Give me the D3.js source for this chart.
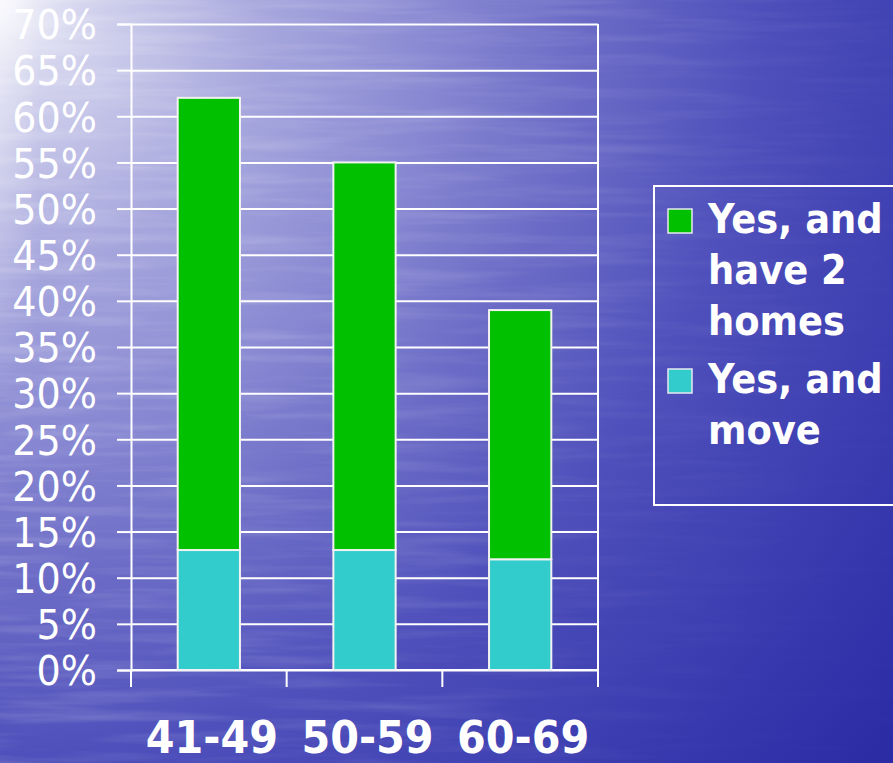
<!DOCTYPE html>
<html>
<head>
<meta charset="utf-8">
<script src="https://cdn.jsdelivr.net/npm/d3@7"></script>
<style>
  html, body { margin: 0; padding: 0; background: #3a3ab0; }
  svg { display: block; }
</style>
</head>
<body>
<svg id="chart" width="893" height="763"></svg>
<script>
// ---- data ----
const categories = ["41-49", "50-59", "60-69"];
const seriesNames = ["Yes, and have 2 homes", "Yes, and move"];
const moveValues = [0.13, 0.13, 0.12];        // bottom (cyan)
const twoHomesValues = [0.49, 0.42, 0.27];    // top (green) -> totals 62%, 55%, 39%
const yTicks = [0, 0.05, 0.10, 0.15, 0.20, 0.25, 0.30, 0.35, 0.40, 0.45, 0.50, 0.55, 0.60, 0.65, 0.70];
const legendLines = [["Yes, and", "have 2", "homes"], ["Yes, and", "move"]];
const colors = ["#00c000", "#33cccc"];

const W = 893, H = 763;
const svg = d3.select("#chart");
const defs = svg.append("defs");

// background gradient
const rg = defs.append("radialGradient").attr("id", "bg")
  .attr("gradientUnits", "userSpaceOnUse").attr("cx", 0).attr("cy", 0).attr("r", 1180);
[[0, "#f6f6fc"], [0.07, "#d4d4ee"], [0.22, "#a8a8de"], [0.35, "#8c8cd4"], [0.5, "#6a6ac6"],
 [0.64, "#4f50bb"], [0.78, "#3f40b2"], [1, "#2a2aa4"]]
  .forEach(([o, c]) => rg.append("stop").attr("offset", o).attr("stop-color", c));
svg.append("rect").attr("width", W).attr("height", H).attr("fill", "url(#bg)");

// left-edge glow
const lgl = defs.append("linearGradient").attr("id", "leftglow").attr("x1", 0).attr("y1", 0).attr("x2", 1).attr("y2", 0);
lgl.append("stop").attr("offset", 0).attr("stop-color", "#ffffff").attr("stop-opacity", 0.45);
lgl.append("stop").attr("offset", 1).attr("stop-color", "#ffffff").attr("stop-opacity", 0);
const lgv = defs.append("linearGradient").attr("id", "leftglowv").attr("x1", 0).attr("y1", 0).attr("x2", 0).attr("y2", 1);
lgv.append("stop").attr("offset", 0).attr("stop-color", "#fff").attr("stop-opacity", 1);
lgv.append("stop").attr("offset", 1).attr("stop-color", "#fff").attr("stop-opacity", 0);
const glowMask = defs.append("mask").attr("id", "glowmask");
glowMask.append("rect").attr("width", 40).attr("height", 420).attr("fill", "url(#leftglowv)");
svg.append("rect").attr("width", 40).attr("height", 420).attr("fill", "url(#leftglow)").attr("mask", "url(#glowmask)");

// water texture
const f = defs.append("filter").attr("id", "water").attr("x", 0).attr("y", 0).attr("width", 1).attr("height", 1);
f.append("feTurbulence").attr("type", "fractalNoise").attr("baseFrequency", "0.006 0.09")
  .attr("numOctaves", 3).attr("seed", 7).attr("result", "n");
f.append("feColorMatrix").attr("type", "matrix")
  .attr("values", "0 0 0 0 1  0 0 0 0 1  0 0 0 0 1  1.4 0 0 0 -0.6");
const tg = defs.append("linearGradient").attr("id", "texfade").attr("x1", 0).attr("y1", 0).attr("x2", 1).attr("y2", 0.3);
tg.append("stop").attr("offset", 0).attr("stop-color", "#fff").attr("stop-opacity", 1);
tg.append("stop").attr("offset", 0.7).attr("stop-color", "#fff").attr("stop-opacity", 0.4);
tg.append("stop").attr("offset", 1).attr("stop-color", "#fff").attr("stop-opacity", 0.05);
const m = defs.append("mask").attr("id", "texmask");
m.append("rect").attr("width", W).attr("height", H).attr("fill", "url(#texfade)");
svg.append("rect").attr("width", W).attr("height", H).attr("filter", "url(#water)")
  .attr("mask", "url(#texmask)").attr("opacity", 0.35);

// ---- scales ----
const plotL = 131, plotR = 598, plotT = 24, plotB = 670;
const y = d3.scaleLinear().domain([0, 0.7]).range([plotB, plotT]);
const x = d3.scaleBand().domain(categories).range([plotL, plotR]).paddingInner(0.6).paddingOuter(0.3);

// grid
const grid = svg.append("g").attr("transform", `translate(${plotL},0)`)
  .call(d3.axisLeft(y).tickValues(yTicks).tickSize(-(plotR - plotL)).tickFormat(""));
grid.select(".domain").remove();
grid.selectAll("line").attr("stroke", "#fff").attr("stroke-width", 2);

// right border
svg.append("line").attr("x1", plotR).attr("x2", plotR).attr("y1", plotT).attr("y2", plotB)
  .attr("stroke", "#fff").attr("stroke-width", 2);

// y axis
const sxY = 0.93;
const yAxis = svg.append("g").attr("transform", `translate(${plotL},0)`)
  .call(d3.axisLeft(y).tickValues(yTicks).tickSize(14).tickPadding(0).tickFormat(d3.format(".0%")));
yAxis.select(".domain").attr("stroke", "#fff").attr("stroke-width", 2);
yAxis.selectAll("line").attr("stroke", "#fff").attr("stroke-width", 2);
yAxis.selectAll("text")
  .attr("fill", "#fff").attr("font-family", "'DejaVu Sans', Verdana, sans-serif")
  .attr("font-size", 41).attr("x", -34 / sxY).attr("dy", "0.36em")
  .attr("transform", `scale(${sxY},1)`);

// x axis: baseline + ticks at category boundaries
const xAxisG = svg.append("g");
xAxisG.append("line").attr("x1", plotL).attr("x2", plotR).attr("y1", plotB).attr("y2", plotB)
  .attr("stroke", "#fff").attr("stroke-width", 2);
xAxisG.selectAll("line.tk").data(d3.range(categories.length + 1)).join("line").attr("class", "tk")
  .attr("x1", i => x.range()[0] + i * x.step()).attr("x2", i => x.range()[0] + i * x.step())
  .attr("y1", plotB).attr("y2", plotB + 17).attr("stroke", "#fff").attr("stroke-width", 2);

// stacked bars
const rows = categories.map((c, i) => ({ cat: c, move: moveValues[i], homes: twoHomesValues[i] }));
const stack = d3.stack().keys(["move", "homes"])(rows);
const stackColors = { move: colors[1], homes: colors[0] };
svg.append("g").selectAll("g").data(stack).join("g")
  .attr("fill", d => stackColors[d.key])
  .selectAll("rect").data(d => d).join("rect")
  .attr("x", d => x(d.data.cat))
  .attr("width", x.bandwidth())
  .attr("y", d => y(d[1]))
  .attr("height", d => y(d[0]) - y(d[1]))
  .attr("stroke", "#f2f2f2").attr("stroke-width", 2);

// x labels
const sxX = 0.94;
svg.append("g").selectAll("text").data(categories).join("text")
  .attr("transform", d => `translate(${x(d) + x.bandwidth() / 2 + 3},753) scale(${sxX},1)`)
  .attr("text-anchor", "middle").attr("fill", "#fff")
  .attr("font-family", "'DejaVu Sans', Verdana, sans-serif").attr("font-weight", "bold")
  .attr("font-size", 44).text(d => d);

// legend
const lg = svg.append("g");
lg.append("rect").attr("x", 654).attr("y", 186).attr("width", 260).attr("height", 319)
  .attr("fill", "none").attr("stroke", "#fff").attr("stroke-width", 2);
const itemTop = [233, 393];
const sxL = 0.9;
legendLines.forEach((lines, i) => {
  lg.append("rect").attr("x", 668).attr("y", itemTop[i] - 24).attr("width", 24).attr("height", 24)
    .attr("fill", colors[i]).attr("stroke", "#e8e8f0").attr("stroke-width", 1.5);
  lines.forEach((t, j) => {
    lg.append("text").attr("transform", `translate(708,${itemTop[i] + j * 51}) scale(${sxL},1)`)
      .attr("fill", "#fff").attr("font-family", "'DejaVu Sans', Verdana, sans-serif")
      .attr("font-weight", "bold").attr("font-size", 41).text(t);
  });
});
</script>
</body>
</html>
